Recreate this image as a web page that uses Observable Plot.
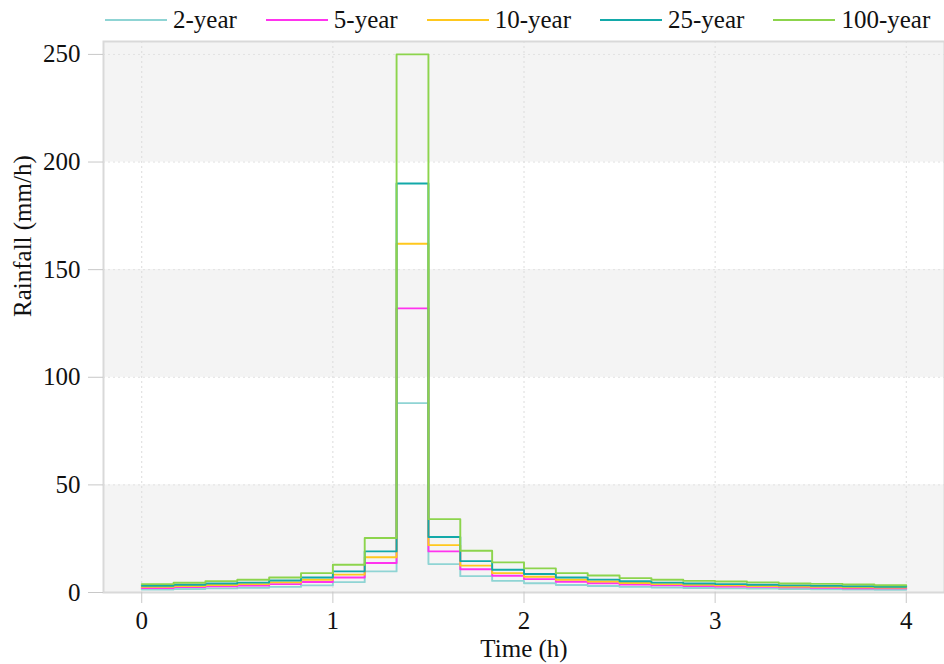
<!DOCTYPE html>
<html><head><meta charset="utf-8">
<script src="https://cdn.jsdelivr.net/npm/d3@7"></script>
<script src="https://cdn.jsdelivr.net/npm/@observablehq/plot@0.6"></script>
<style>
body{margin:0;background:#fff;font-family:"Liberation Serif",serif;}
#legend{height:38px;display:flex;align-items:center;padding-left:105px;font-size:25px;color:#111;box-sizing:border-box;padding-top:2px;white-space:nowrap;}
.item{display:flex;align-items:center;margin-right:29px;flex:none;}
.swatch{width:62px;height:2px;margin-right:6px;}
#chart svg{display:block;}
</style></head><body>
<div id="legend"></div><div id="chart"></div>
<script>
const seriesNames = ["2-year", "5-year", "10-year", "25-year", "100-year"];
const seriesColors = ["#8fd4d4", "#ff33ee", "#ffc81e", "#13a9a9", "#8cd44c"];
const xTicks = [0, 1, 2, 3, 4];
const yTicks = [0, 50, 100, 150, 200, 250];
const bandLo = [0, 100, 200];
const bandHi = [50, 150, 256];
// 10-minute blocks from 0 to 4 h
const blockStart = d3.range(0, 25).map(i => i / 6);

const rain2 = [1.4, 1.6, 1.9, 2.2, 2.6, 3.3, 4.8, 9.8, 88, 13.2, 7.6, 5.4, 4.3, 3.5, 3.0, 2.6, 2.3, 2.1, 1.9, 1.8, 1.6, 1.5, 1.4, 1.3];
const rain5 = [2.1, 2.5, 2.9, 3.2, 3.9, 4.9, 7.0, 13.7, 132, 19.1, 10.8, 7.8, 6.2, 5.0, 4.3, 3.7, 3.3, 3.0, 2.8, 2.6, 2.4, 2.2, 2.0, 1.9];
const rain10 = [2.6, 3.0, 3.5, 3.9, 4.7, 5.9, 8.3, 16.4, 162, 22.0, 12.5, 9.0, 7.3, 5.9, 5.1, 4.4, 3.9, 3.6, 3.3, 3.0, 2.8, 2.6, 2.4, 2.3];
const rain25 = [3.1, 3.6, 4.2, 4.6, 5.6, 7.0, 9.8, 19.1, 190, 25.8, 14.6, 10.6, 8.6, 7.0, 6.0, 5.2, 4.6, 4.2, 3.9, 3.6, 3.3, 3.1, 2.9, 2.7];
const rain100 = [3.9, 4.5, 5.3, 5.9, 7.0, 9.0, 12.9, 25.3, 250, 34.1, 19.4, 14.0, 11.2, 9.0, 7.9, 6.7, 5.9, 5.4, 5.1, 4.7, 4.2, 4.0, 3.7, 3.4];

const allSeries = [rain2, rain5, rain10, rain25, rain100];
const rows = [];
allSeries.forEach((vals, k) => {
  const ext = vals.concat([vals[vals.length - 1]]);
  ext.forEach((v, i) => rows.push({s: seriesNames[k], t: blockStart[i], v}));
});
const bands = bandLo.map((lo, i) => ({lo, hi: bandHi[i]}));

const legend = document.getElementById("legend");
seriesNames.forEach((n, i) => {
  const it = document.createElement("div");
  it.className = "item";
  it.innerHTML = `<div class="swatch" style="background:${seriesColors[i]}"></div><span>${n}</span>`;
  legend.appendChild(it);
});

const chart = Plot.plot({
  width: 944,
  height: 626,
  marginTop: 3,
  marginBottom: 72,
  marginLeft: 103,
  marginRight: 0,
  style: {fontFamily: "Liberation Serif, serif", fontSize: "25px", color: "#111", background: "#fff"},
  x: {domain: [-0.2, 4.2]},
  y: {domain: [0, 256]},
  color: {domain: seriesNames, range: seriesColors},
  marks: [
    Plot.rect(bands, {y1: "lo", y2: "hi", fill: "#f4f4f4"}),
    Plot.ruleX(xTicks, {stroke: "#dcdcdc", strokeDasharray: "2,3"}),
    Plot.ruleY(yTicks, {stroke: "#e2e2e2", strokeDasharray: "2,3"}),
    Plot.line(rows, {x: "t", y: "v", z: "s", stroke: "s", curve: "step-after", strokeWidth: 1.9}),
    Plot.frame({stroke: "#d9d9d9", strokeWidth: 2}),
    Plot.axisX(xTicks, {tickSize: 11, tickPadding: 8, stroke: "#c8c8c8", fill: "#111", label: null, fontSize: 25, tickFormat: d3.format("d")}),
    Plot.axisY(yTicks, {tickSize: 15, tickPadding: 8, stroke: "#c8c8c8", fill: "#111", label: null, fontSize: 25, tickFormat: d3.format("d")}),
    Plot.text(["Time (h)"], {frameAnchor: "bottom", dy: 64, fontSize: 25, fill: "#111"}),
    Plot.text(["Rainfall (mm/h)"], {frameAnchor: "left", dx: -81, rotate: -90, fontSize: 25, fill: "#111"})
  ]
});
document.getElementById("chart").appendChild(chart);
</script>
</body></html>
